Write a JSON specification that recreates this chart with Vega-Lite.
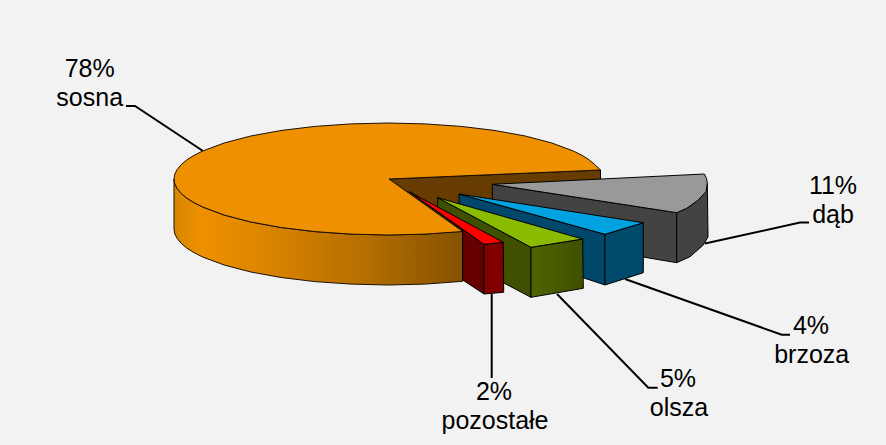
{
"$schema":"https://vega.github.io/schema/vega-lite/v6.json",
"width":886,"height":445,"padding":0,
"autosize":{"type":"fit","contains":"padding"},
"background":"#f2f2f2",
"config":{"view":{"stroke":null}},
"datasets":{
"outline":[
{"part":"sosna_side","i":1,"x":174,"y":179},{"part":"sosna_side","i":2,"x":174.8,"y":183.9},{"part":"sosna_side","i":3,"x":177.3,"y":188.7},{"part":"sosna_side","i":4,"x":181.3,"y":193.5},{"part":"sosna_side","i":5,"x":186.9,"y":198.2},{"part":"sosna_side","i":6,"x":194.1,"y":202.7},{"part":"sosna_side","i":7,"x":202.7,"y":207},{"part":"sosna_side","i":8,"x":224.1,"y":215},{"part":"sosna_side","i":9,"x":250.4,"y":221.9},{"part":"sosna_side","i":10,"x":281,"y":227.5},{"part":"sosna_side","i":11,"x":314.8,"y":231.6},{"part":"sosna_side","i":12,"x":350.8,"y":234.1},{"part":"sosna_side","i":13,"x":388,"y":235},{"part":"sosna_side","i":14,"x":425.2,"y":234.1},{"part":"sosna_side","i":15,"x":462.7,"y":231.3},{"part":"sosna_side","i":16,"x":462.7,"y":281.3},{"part":"sosna_side","i":17,"x":425.2,"y":284.1},{"part":"sosna_side","i":18,"x":388,"y":285},{"part":"sosna_side","i":19,"x":350.8,"y":284.1},{"part":"sosna_side","i":20,"x":314.8,"y":281.6},{"part":"sosna_side","i":21,"x":281,"y":277.5},{"part":"sosna_side","i":22,"x":250.4,"y":271.9},{"part":"sosna_side","i":23,"x":224.1,"y":265},{"part":"sosna_side","i":24,"x":202.7,"y":257},{"part":"sosna_side","i":25,"x":194.1,"y":252.7},{"part":"sosna_side","i":26,"x":186.9,"y":248.2},{"part":"sosna_side","i":27,"x":181.3,"y":243.5},{"part":"sosna_side","i":28,"x":177.3,"y":238.7},{"part":"sosna_side","i":29,"x":174.8,"y":233.9},{"part":"sosna_side","i":30,"x":174,"y":229},{"part":"sosna_side","i":31,"x":174,"y":179},
{"part":"sosna_cut","i":1,"x":389,"y":179},{"part":"sosna_cut","i":2,"x":600.5,"y":170},{"part":"sosna_cut","i":3,"x":600.5,"y":183},{"part":"sosna_cut","i":4,"x":500,"y":200},{"part":"sosna_cut","i":5,"x":462.7,"y":232},{"part":"sosna_cut","i":6,"x":389,"y":179},
{"part":"sosna_top","i":1,"x":389,"y":179},{"part":"sosna_top","i":2,"x":462.7,"y":231.5},{"part":"sosna_top","i":3,"x":425.2,"y":234.1},{"part":"sosna_top","i":4,"x":388,"y":235},{"part":"sosna_top","i":5,"x":350.8,"y":234.1},{"part":"sosna_top","i":6,"x":314.8,"y":231.6},{"part":"sosna_top","i":7,"x":281,"y":227.5},{"part":"sosna_top","i":8,"x":250.4,"y":221.9},{"part":"sosna_top","i":9,"x":224.1,"y":215},{"part":"sosna_top","i":10,"x":202.7,"y":207},{"part":"sosna_top","i":11,"x":194.1,"y":202.7},{"part":"sosna_top","i":12,"x":186.9,"y":198.2},{"part":"sosna_top","i":13,"x":181.3,"y":193.5},{"part":"sosna_top","i":14,"x":177.3,"y":188.7},{"part":"sosna_top","i":15,"x":174.8,"y":183.9},{"part":"sosna_top","i":16,"x":174,"y":179},{"part":"sosna_top","i":17,"x":174.8,"y":174.1},{"part":"sosna_top","i":18,"x":177.3,"y":169.3},{"part":"sosna_top","i":19,"x":181.3,"y":164.5},{"part":"sosna_top","i":20,"x":186.9,"y":159.8},{"part":"sosna_top","i":21,"x":194.1,"y":155.3},{"part":"sosna_top","i":22,"x":202.7,"y":151},{"part":"sosna_top","i":23,"x":224.1,"y":143},{"part":"sosna_top","i":24,"x":250.4,"y":136.1},{"part":"sosna_top","i":25,"x":281,"y":130.5},{"part":"sosna_top","i":26,"x":314.8,"y":126.4},{"part":"sosna_top","i":27,"x":350.8,"y":123.9},{"part":"sosna_top","i":28,"x":388,"y":123},{"part":"sosna_top","i":29,"x":425.2,"y":123.9},{"part":"sosna_top","i":30,"x":461.2,"y":126.4},{"part":"sosna_top","i":31,"x":495,"y":130.5},{"part":"sosna_top","i":32,"x":525.6,"y":136.1},{"part":"sosna_top","i":33,"x":551.9,"y":143},{"part":"sosna_top","i":34,"x":573.3,"y":151},{"part":"sosna_top","i":35,"x":582,"y":155.3},{"part":"sosna_top","i":36,"x":589.1,"y":159.8},{"part":"sosna_top","i":37,"x":594.7,"y":164.5},{"part":"sosna_top","i":38,"x":600.5,"y":170},{"part":"sosna_top","i":39,"x":389,"y":179},
{"part":"dab_inner","i":1,"x":492.3,"y":184.3},{"part":"dab_inner","i":2,"x":676.7,"y":212.7},{"part":"dab_inner","i":3,"x":676.7,"y":262.7},{"part":"dab_inner","i":4,"x":643,"y":257},{"part":"dab_inner","i":5,"x":492.3,"y":234},{"part":"dab_inner","i":6,"x":492.3,"y":184.3},
{"part":"dab_outer","i":1,"x":707.3,"y":183.3},{"part":"dab_outer","i":2,"x":706,"y":191.7},{"part":"dab_outer","i":3,"x":698.3,"y":200},{"part":"dab_outer","i":4,"x":686.7,"y":208.3},{"part":"dab_outer","i":5,"x":676.7,"y":212.7},{"part":"dab_outer","i":6,"x":676.7,"y":262.7},{"part":"dab_outer","i":7,"x":690,"y":256.7},{"part":"dab_outer","i":8,"x":703.3,"y":245},{"part":"dab_outer","i":9,"x":708,"y":237},{"part":"dab_outer","i":10,"x":707.3,"y":183.3},
{"part":"dab_top","i":1,"x":492.3,"y":184.3},{"part":"dab_top","i":2,"x":704.3,"y":174},{"part":"dab_top","i":3,"x":706.6,"y":178.5},{"part":"dab_top","i":4,"x":707.3,"y":183.3},{"part":"dab_top","i":5,"x":706,"y":191.7},{"part":"dab_top","i":6,"x":698.3,"y":200},{"part":"dab_top","i":7,"x":686.7,"y":208.3},{"part":"dab_top","i":8,"x":676.7,"y":212.7},{"part":"dab_top","i":9,"x":492.3,"y":184.3},
{"part":"brzoza_inner","i":1,"x":459,"y":194},{"part":"brzoza_inner","i":2,"x":605,"y":234.3},{"part":"brzoza_inner","i":3,"x":605,"y":285},{"part":"brzoza_inner","i":4,"x":575,"y":275},{"part":"brzoza_inner","i":5,"x":520,"y":230},{"part":"brzoza_inner","i":6,"x":459,"y":203.5},{"part":"brzoza_inner","i":7,"x":459,"y":194},
{"part":"brzoza_outer","i":1,"x":605,"y":234.3},{"part":"brzoza_outer","i":2,"x":643.3,"y":222.7},{"part":"brzoza_outer","i":3,"x":643.3,"y":272.7},{"part":"brzoza_outer","i":4,"x":605,"y":285},{"part":"brzoza_outer","i":5,"x":605,"y":234.3},
{"part":"brzoza_top","i":1,"x":459,"y":194},{"part":"brzoza_top","i":2,"x":643.3,"y":222.7},{"part":"brzoza_top","i":3,"x":605,"y":234.3},{"part":"brzoza_top","i":4,"x":459,"y":194},
{"part":"olsza_inner","i":1,"x":437.7,"y":197.7},{"part":"olsza_inner","i":2,"x":531,"y":247.3},{"part":"olsza_inner","i":3,"x":531,"y":297.3},{"part":"olsza_inner","i":4,"x":500,"y":281},{"part":"olsza_inner","i":5,"x":480,"y":240},{"part":"olsza_inner","i":6,"x":437.7,"y":207},{"part":"olsza_inner","i":7,"x":437.7,"y":197.7},
{"part":"olsza_outer","i":1,"x":531,"y":247.3},{"part":"olsza_outer","i":2,"x":582.7,"y":239},{"part":"olsza_outer","i":3,"x":583.3,"y":288.3},{"part":"olsza_outer","i":4,"x":531,"y":297.3},{"part":"olsza_outer","i":5,"x":531,"y":247.3},
{"part":"olsza_top","i":1,"x":437.7,"y":197.7},{"part":"olsza_top","i":2,"x":582.7,"y":239},{"part":"olsza_top","i":3,"x":531,"y":247.3},{"part":"olsza_top","i":4,"x":437.7,"y":197.7},
{"part":"pozostale_inner","i":1,"x":409.3,"y":191.7},{"part":"pozostale_inner","i":2,"x":484,"y":244.3},{"part":"pozostale_inner","i":3,"x":484,"y":294},{"part":"pozostale_inner","i":4,"x":462.7,"y":280},{"part":"pozostale_inner","i":5,"x":462.7,"y":230},{"part":"pozostale_inner","i":6,"x":409.3,"y":191.7},
{"part":"pozostale_outer","i":1,"x":484,"y":244.3},{"part":"pozostale_outer","i":2,"x":503.3,"y":242.3},{"part":"pozostale_outer","i":3,"x":503.7,"y":292.3},{"part":"pozostale_outer","i":4,"x":484,"y":294},{"part":"pozostale_outer","i":5,"x":484,"y":244.3},
{"part":"pozostale_top","i":1,"x":409.3,"y":191.7},{"part":"pozostale_top","i":2,"x":503.3,"y":242.3},{"part":"pozostale_top","i":3,"x":484,"y":244.3},{"part":"pozostale_top","i":4,"x":409.3,"y":191.7},
{"part":"leader_sosna","i":1,"x":126,"y":106},{"part":"leader_sosna","i":2,"x":135,"y":106},{"part":"leader_sosna","i":3,"x":203,"y":151},
{"part":"leader_dab","i":1,"x":809,"y":222.5},{"part":"leader_dab","i":2,"x":800,"y":222.5},{"part":"leader_dab","i":3,"x":705,"y":243.5},
{"part":"leader_brzoza","i":1,"x":790,"y":334.7},{"part":"leader_brzoza","i":2,"x":781.7,"y":334.7},{"part":"leader_brzoza","i":3,"x":625,"y":279},
{"part":"leader_olsza","i":1,"x":657.7,"y":387.7},{"part":"leader_olsza","i":2,"x":648.3,"y":387.7},{"part":"leader_olsza","i":3,"x":557,"y":294},
{"part":"leader_pozostale","i":1,"x":491.7,"y":378},{"part":"leader_pozostale","i":2,"x":491.7,"y":294}
],
"labels":[
{"series":"sosna","share":78,"text":"78%","x":89.7,"y":76.7},{"series":"sosna","share":78,"text":"sosna","x":89.7,"y":105.7},
{"series":"dąb","share":11,"text":"11%","x":833,"y":194},{"series":"dąb","share":11,"text":"dąb","x":833,"y":222.7},
{"series":"brzoza","share":4,"text":"4%","x":811,"y":334},{"series":"brzoza","share":4,"text":"brzoza","x":811.7,"y":362.7},
{"series":"olsza","share":5,"text":"5%","x":678,"y":387.3},{"series":"olsza","share":5,"text":"olsza","x":679,"y":415.7},
{"series":"pozostałe","share":2,"text":"2%","x":494,"y":400},{"series":"pozostałe","share":2,"text":"pozostałe","x":495,"y":428.7}
]
},
"data":{"name":"outline"},
"encoding":{
"x":{"field":"x","type":"quantitative","axis":null,"scale":{"domain":[0,886],"nice":false,"zero":false}},
"y":{"field":"y","type":"quantitative","axis":null,"scale":{"domain":[445,0],"nice":false,"zero":false}}
},
"layer":[
{"transform":[{"filter":"indexof(datum.part,'leader')===0"}],"mark":{"type":"line","stroke":"#000000","strokeWidth":2,"strokeJoin":"miter"},"encoding":{"detail":{"field":"part"},"order":{"field":"i","type":"quantitative"}}},
{"transform":[{"filter":"datum.part==='sosna_side'"}],"mark":{"type":"line","stroke":"#1a1000","strokeWidth":1,"fill":{"gradient":"linear","x1":0,"x2":1,"y1":0,"y2":0,"stops":[{"offset":0,"color":"#d88600"},{"offset":0.1,"color":"#ee9000"},{"offset":0.35,"color":"#d88300"},{"offset":0.7,"color":"#b06b00"},{"offset":1,"color":"#855200"}]}},"encoding":{"order":{"field":"i","type":"quantitative"}}},
{"transform":[{"filter":"datum.part==='sosna_cut'"}],"mark":{"type":"line","stroke":"#000000","strokeWidth":1,"fill":"#663c00"},"encoding":{"order":{"field":"i","type":"quantitative"}}},
{"transform":[{"filter":"datum.part==='sosna_top'"}],"mark":{"type":"line","stroke":"#1a1000","strokeWidth":1,"fill":"#ee9000"},"encoding":{"order":{"field":"i","type":"quantitative"}}},
{"transform":[{"filter":"datum.part==='dab_inner'"}],"mark":{"type":"line","stroke":"#000000","strokeWidth":1,"fill":"#434343"},"encoding":{"order":{"field":"i","type":"quantitative"}}},
{"transform":[{"filter":"datum.part==='dab_outer'"}],"mark":{"type":"line","stroke":"#000000","strokeWidth":1,"fill":"#434343"},"encoding":{"order":{"field":"i","type":"quantitative"}}},
{"transform":[{"filter":"datum.part==='dab_top'"}],"mark":{"type":"line","stroke":"#000000","strokeWidth":1,"fill":"#999999"},"encoding":{"order":{"field":"i","type":"quantitative"}}},
{"transform":[{"filter":"datum.part==='brzoza_inner'"}],"mark":{"type":"line","stroke":"#000000","strokeWidth":1,"fill":"#00486b"},"encoding":{"order":{"field":"i","type":"quantitative"}}},
{"transform":[{"filter":"datum.part==='brzoza_outer'"}],"mark":{"type":"line","stroke":"#000000","strokeWidth":1,"fill":"#004a6b"},"encoding":{"order":{"field":"i","type":"quantitative"}}},
{"transform":[{"filter":"datum.part==='brzoza_top'"}],"mark":{"type":"line","stroke":"#000000","strokeWidth":1,"fill":"#00a3e0"},"encoding":{"order":{"field":"i","type":"quantitative"}}},
{"transform":[{"filter":"datum.part==='olsza_inner'"}],"mark":{"type":"line","stroke":"#000000","strokeWidth":1,"fill":"#3f5000"},"encoding":{"order":{"field":"i","type":"quantitative"}}},
{"transform":[{"filter":"datum.part==='olsza_outer'"}],"mark":{"type":"line","stroke":"#000000","strokeWidth":1,"fill":{"gradient":"linear","x1":0,"x2":1,"y1":0,"y2":0,"stops":[{"offset":0,"color":"#4f6400"},{"offset":1,"color":"#3f5000"}]}},"encoding":{"order":{"field":"i","type":"quantitative"}}},
{"transform":[{"filter":"datum.part==='olsza_top'"}],"mark":{"type":"line","stroke":"#000000","strokeWidth":1,"fill":"#8abb00"},"encoding":{"order":{"field":"i","type":"quantitative"}}},
{"transform":[{"filter":"datum.part==='pozostale_inner'"}],"mark":{"type":"line","stroke":"#000000","strokeWidth":1,"fill":"#660000"},"encoding":{"order":{"field":"i","type":"quantitative"}}},
{"transform":[{"filter":"datum.part==='pozostale_outer'"}],"mark":{"type":"line","stroke":"#000000","strokeWidth":1,"fill":"#800000"},"encoding":{"order":{"field":"i","type":"quantitative"}}},
{"transform":[{"filter":"datum.part==='pozostale_top'"}],"mark":{"type":"line","stroke":"#000000","strokeWidth":1,"fill":"#ff0000"},"encoding":{"order":{"field":"i","type":"quantitative"}}},
{"data":{"name":"labels"},"mark":{"type":"text","font":"Liberation Sans","fontSize":25,"align":"center","baseline":"alphabetic","color":"#000000"},"encoding":{"text":{"field":"text"}}}
]
}
